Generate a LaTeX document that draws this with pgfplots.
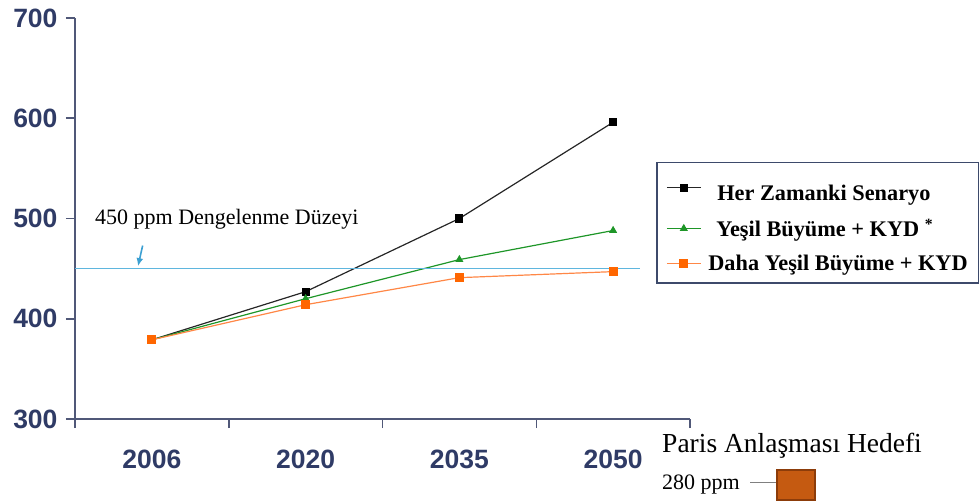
\documentclass[border=0pt]{standalone}
\usepackage{pgfplots}
\pgfplotsset{compat=1.18}
\usetikzlibrary{arrows.meta}
\usepackage{fontspec}
\setmainfont{Liberation Serif}
\newfontfamily\arial{Liberation Sans}
\definecolor{axiscol}{RGB}{80,88,120}
\definecolor{labcol}{RGB}{47,59,102}
\definecolor{refblue}{RGB}{95,182,222}
\definecolor{arrowblue}{RGB}{60,160,210}
\definecolor{sgreen}{RGB}{30,150,40}
\definecolor{sorange}{RGB}{255,102,0}
\definecolor{lorange}{RGB}{255,135,70}
\definecolor{parisfill}{RGB}{197,90,17}
\definecolor{parisdraw}{RGB}{140,60,10}
\definecolor{legdraw}{RGB}{61,74,107}
\begin{document}
\begin{tikzpicture}
\useasboundingbox (0,0) rectangle (979pt,503pt);
\begin{axis}[
  at={(75pt,84pt)}, anchor=south west,
  width=615pt, height=401pt, scale only axis,
  xmin=0.5, xmax=4.5, ymin=300, ymax=700,
  axis x line=bottom, axis y line=left,
  axis line style={-, axiscol, line width=1.5pt},
  tick align=outside,
  ytick={300,400,...,700},
  xtick={1,2,3,4}, xticklabels={2006,2020,2035,2050},
  major x tick style={draw=none},
  minor xtick={0.5,1.5,2.5,3.5,4.5},
  minor tick length=9pt, major tick length=9pt,
  every tick/.style={axiscol, line width=1.5pt},
  tick label style={font=\arial\bfseries\fontsize{26.5}{26.5}\selectfont, text=labcol},
  /pgf/number format/assume math mode=true,
  yticklabel style={xshift=-5pt},
  xticklabel style={yshift=-18pt},
  legend style={draw=legdraw, line width=1.5pt, at={(0.946,0.641)}, anchor=north west,
    font=\bfseries\fontsize{22.3}{24}\selectfont, row sep=13pt, inner xsep=9pt, inner ysep=9pt,
    text depth=0.2em, cells={line width=0.8pt}},
  legend cell align=left,
  legend image code/.code={\draw[mark repeat=2,mark phase=2] plot coordinates {(0pt,0pt) (17pt,0pt) (34pt,0pt)};},
  clip=false,
]
\addplot[black!85, line width=1.2pt, mark=square*, mark size=3.5pt, mark options={black}] coordinates {(1,379) (2,427) (3,500) (4,596)};
\addlegendentry{\rule{0pt}{27pt}\hspace{14pt}Her Zamanki Senaryo}
\addplot[sgreen, line width=1.2pt, mark=triangle*, mark size=3.5pt] coordinates {(1,379) (2,420) (3,459) (4,488)};
\addlegendentry{\hspace{13pt}Yeşil Büyüme + KYD \textsuperscript{*}}
\addplot[lorange, line width=1.2pt, mark=square*, mark size=4pt, mark options={fill=sorange, draw=sorange}] coordinates {(1,379) (2,414) (3,441) (4,447)};
\addlegendentry{\hspace{5pt}Daha Yeşil Büyüme + KYD}
\addplot[refblue, line width=1.3pt, forget plot] coordinates {(0.5,450) (4.175,450)};
\node[anchor=base west, inner sep=0pt, font=\fontsize{22}{24}\selectfont] at (axis cs:0.63,494) {450 ppm Dengelenme Düzeyi};
\draw[arrowblue, line width=1.6pt, -{Latex[length=8pt,width=7pt]}] (axis cs:0.94,473) -- (axis cs:0.91,452.5);
\end{axis}
\node[anchor=base west, inner sep=0pt, font=\fontsize{27.5}{29}\selectfont] at (662pt,50pt) {Paris Anlaşması Hedefi};
\node[anchor=base west, inner sep=0pt, font=\fontsize{22}{24}\selectfont] at (662pt,13pt) {280 ppm};
\draw[gray, line width=1pt] (750pt,21pt) -- (777pt,21pt);
\draw[parisdraw, fill=parisfill, line width=1.5pt] (777pt,3pt) rectangle (815pt,33pt);
\end{tikzpicture}
\end{document}
